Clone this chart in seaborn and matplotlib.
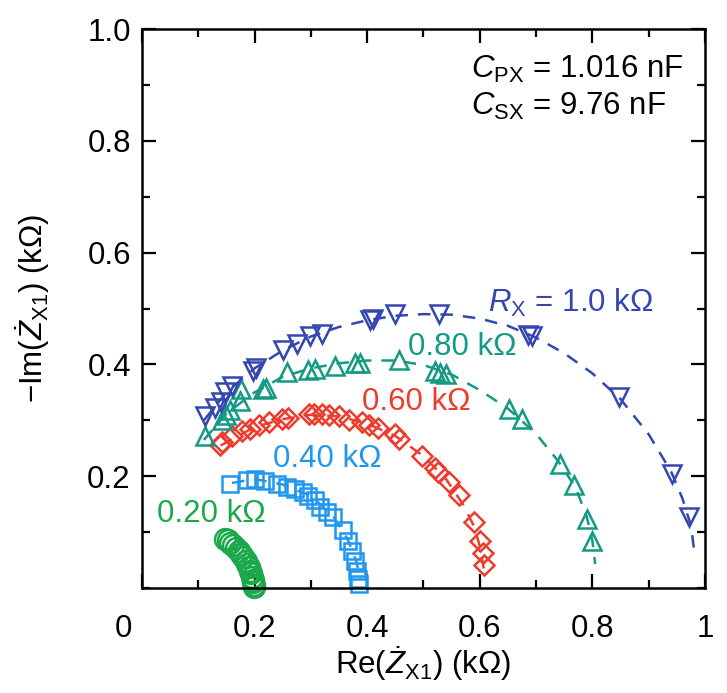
import matplotlib
matplotlib.use("Agg")
import matplotlib.pyplot as plt
from matplotlib.ticker import MultipleLocator
from matplotlib.transforms import ScaledTranslation
import seaborn as sns

r020_re = [0.147, 0.152, 0.157, 0.162, 0.167, 0.172, 0.176, 0.180, 0.184, 0.187,
           0.190, 0.192, 0.194, 0.196, 0.197, 0.198, 0.199, 0.199]
r020_im = [0.088, 0.085, 0.081, 0.077, 0.072, 0.067, 0.061, 0.055, 0.049, 0.043,
           0.037, 0.031, 0.026, 0.020, 0.015, 0.010, 0.006, 0.002]

r040_re = [0.156, 0.186, 0.200, 0.218, 0.240, 0.258, 0.272, 0.286, 0.295, 0.307,
           0.316, 0.328, 0.340, 0.357, 0.366, 0.373, 0.378, 0.382, 0.384, 0.386]
r040_im = [0.186, 0.193, 0.195, 0.191, 0.186, 0.181, 0.177, 0.172, 0.165, 0.158,
           0.145, 0.136, 0.127, 0.104, 0.084, 0.066, 0.048, 0.030, 0.016, 0.008]

r060_re = [0.139, 0.142, 0.160, 0.178, 0.192, 0.208, 0.225, 0.249, 0.260, 0.296,
           0.305, 0.320, 0.332, 0.350, 0.367, 0.390, 0.403, 0.420, 0.449, 0.456,
           0.497, 0.520, 0.526, 0.545, 0.563, 0.590, 0.600, 0.606, 0.607]
r060_im = [0.256, 0.262, 0.272, 0.280, 0.285, 0.292, 0.297, 0.302, 0.305, 0.311,
           0.311, 0.311, 0.310, 0.308, 0.300, 0.297, 0.292, 0.286, 0.276, 0.267,
           0.236, 0.215, 0.208, 0.190, 0.166, 0.118, 0.084, 0.062, 0.041]

r080_re = [0.112, 0.142, 0.150, 0.156, 0.174, 0.176, 0.215, 0.220, 0.258, 0.295,
           0.307, 0.343, 0.378, 0.388, 0.456, 0.520, 0.530, 0.540, 0.652, 0.675,
           0.742, 0.767, 0.790, 0.799]
r080_im = [0.272, 0.300, 0.310, 0.318, 0.335, 0.356, 0.356, 0.358, 0.386, 0.390,
           0.392, 0.398, 0.402, 0.402, 0.408, 0.388, 0.385, 0.382, 0.320, 0.302,
           0.222, 0.184, 0.123, 0.084]

r100_re = [0.112, 0.130, 0.140, 0.147, 0.160, 0.198, 0.203, 0.250, 0.275, 0.298,
           0.320, 0.405, 0.410, 0.450, 0.527, 0.686, 0.692, 0.847, 0.941, 0.972]
r100_im = [0.308, 0.322, 0.332, 0.350, 0.362, 0.388, 0.393, 0.425, 0.437, 0.450,
           0.454, 0.480, 0.482, 0.490, 0.490, 0.452, 0.450, 0.342, 0.204, 0.127]

# fitted curves (dashed), kΩ
fit040_re = [0.160, 0.200, 0.250, 0.300, 0.340, 0.365, 0.380, 0.388]
fit040_im = [0.188, 0.195, 0.185, 0.165, 0.128, 0.088, 0.050, 0.015]
fit060_re = [0.140, 0.200, 0.250, 0.300, 0.350, 0.400, 0.450, 0.500, 0.540, 0.570,
             0.590, 0.600, 0.607]
fit060_im = [0.255, 0.288, 0.302, 0.310, 0.307, 0.294, 0.272, 0.236, 0.195, 0.150,
             0.110, 0.075, 0.035]
fit080_re = [0.110, 0.150, 0.200, 0.250, 0.300, 0.350, 0.400, 0.450, 0.500, 0.550,
             0.600, 0.650, 0.700, 0.740, 0.770, 0.790, 0.800, 0.805]
fit080_im = [0.265, 0.312, 0.350, 0.378, 0.393, 0.402, 0.407, 0.407, 0.399, 0.382,
             0.354, 0.321, 0.276, 0.226, 0.180, 0.128, 0.085, 0.043]
fit100_re = [0.110, 0.150, 0.200, 0.250, 0.300, 0.350, 0.400, 0.450, 0.500, 0.550,
             0.600, 0.650, 0.700, 0.750, 0.800, 0.850, 0.900, 0.940, 0.960, 0.975,
             0.982]
fit100_im = [0.300, 0.350, 0.393, 0.425, 0.450, 0.467, 0.479, 0.487, 0.490, 0.489,
             0.482, 0.469, 0.448, 0.420, 0.384, 0.338, 0.275, 0.208, 0.160, 0.112,
             0.058]

series_labels = [r"$R_{\mathrm{X}}$ = 1.0 kΩ", "0.80 kΩ", "0.60 kΩ", "0.40 kΩ", "0.20 kΩ"]

GREEN = "#1BA84A"
SKY = "#1F97EF"
RED = "#EF3B2C"
TEAL = "#129A84"
NAVY = "#3447B0"

sns.set_theme(style="ticks")
plt.rcParams["font.family"] = ["Liberation Sans", "DejaVu Sans"]
plt.rcParams["mathtext.fontset"] = "custom"
plt.rcParams["mathtext.rm"] = "Liberation Sans"
plt.rcParams["mathtext.it"] = "Liberation Sans:italic"
plt.rcParams["mathtext.bf"] = "Liberation Sans:bold"

FS = 22.5

fig = plt.figure(figsize=(7.27, 6.93), dpi=100)
ax = fig.add_axes([0.1953, 0.1515, 0.7744, 0.8066])

dash = (0, (5, 4))
for fx, fy, col in [(fit040_re, fit040_im, SKY), (fit060_re, fit060_im, RED),
                    (fit080_re, fit080_im, TEAL), (fit100_re, fit100_im, NAVY)]:
    sns.lineplot(x=fx, y=fy, ax=ax, color=col, lw=1.8, linestyle=dash,
                 estimator=None, sort=False)

points = [
    (r020_re, r020_im, "o", 15, GREEN),
    (r040_re, r040_im, "s", 12, SKY),
    (r060_re, r060_im, "D", 10.5, RED),
    (r080_re, r080_im, "^", 13, TEAL),
    (r100_re, r100_im, "v", 13, NAVY),
]
for px, py, m, ms, col in points:
    sns.lineplot(x=px, y=py, ax=ax, color=col, linestyle="", marker=m,
                 markersize=ms, mfc="none", mec=col, mew=1.8,
                 estimator=None, sort=False, clip_on=False)

# curve labels
ax.text(0.615, 0.494, series_labels[0], color=NAVY, fontsize=FS, va="baseline")
ax.text(0.472, 0.417, series_labels[1], color=TEAL, fontsize=FS, va="baseline")
ax.text(0.391, 0.318, series_labels[2], color=RED, fontsize=FS, va="baseline")
ax.text(0.233, 0.216, series_labels[3], color=SKY, fontsize=FS, va="baseline")
ax.text(0.027, 0.118, series_labels[4], color=GREEN, fontsize=FS, va="baseline")

ax.text(0.585, 0.912, r"$C_{\mathrm{PX}}$ = 1.016 nF", color="black",
        fontsize=FS, va="baseline")
ax.text(0.585, 0.846, r"$C_{\mathrm{SX}}$ = 9.76 nF", color="black",
        fontsize=FS, va="baseline")

ax.set_xlim(0, 1)
ax.set_ylim(0, 1)
ax.set_xticks([0, 0.2, 0.4, 0.6, 0.8, 1.0])
ax.set_xticklabels(["0", "0.2", "0.4", "0.6", "0.8", "1"])
ax.set_yticks([0.2, 0.4, 0.6, 0.8, 1.0])
ax.set_yticklabels(["0.2", "0.4", "0.6", "0.8", "1.0"])
ax.xaxis.set_minor_locator(MultipleLocator(0.1))
ax.yaxis.set_minor_locator(MultipleLocator(0.1))
ax.tick_params(which="both", direction="in", top=True, right=True,
               width=1.6, color="black", labelsize=FS, labelcolor="black")
ax.tick_params(which="major", length=10)
ax.tick_params(which="minor", length=5.5)
ax.tick_params(axis="x", pad=19)
ax.tick_params(axis="y", pad=8)
for s in ax.spines.values():
    s.set_linewidth(1.8)
    s.set_color("black")

# the shared origin "0" sits left of the corner
zero = ax.get_xticklabels()[0]
zero.set_transform(zero.get_transform() + ScaledTranslation(-0.19, 0, fig.dpi_scale_trans))

ax.set_xlabel(r"Re($\dot{Z}_{\mathrm{X1}}$) (kΩ)", fontsize=FS, color="black")
ax.set_ylabel(r"−Im($\dot{Z}_{\mathrm{X1}}$) (kΩ)", fontsize=FS, color="black")
ax.xaxis.set_label_coords(0.5, -0.10)
ax.yaxis.set_label_coords(-0.16, 0.5)

fig.savefig("out.png", dpi=100)
